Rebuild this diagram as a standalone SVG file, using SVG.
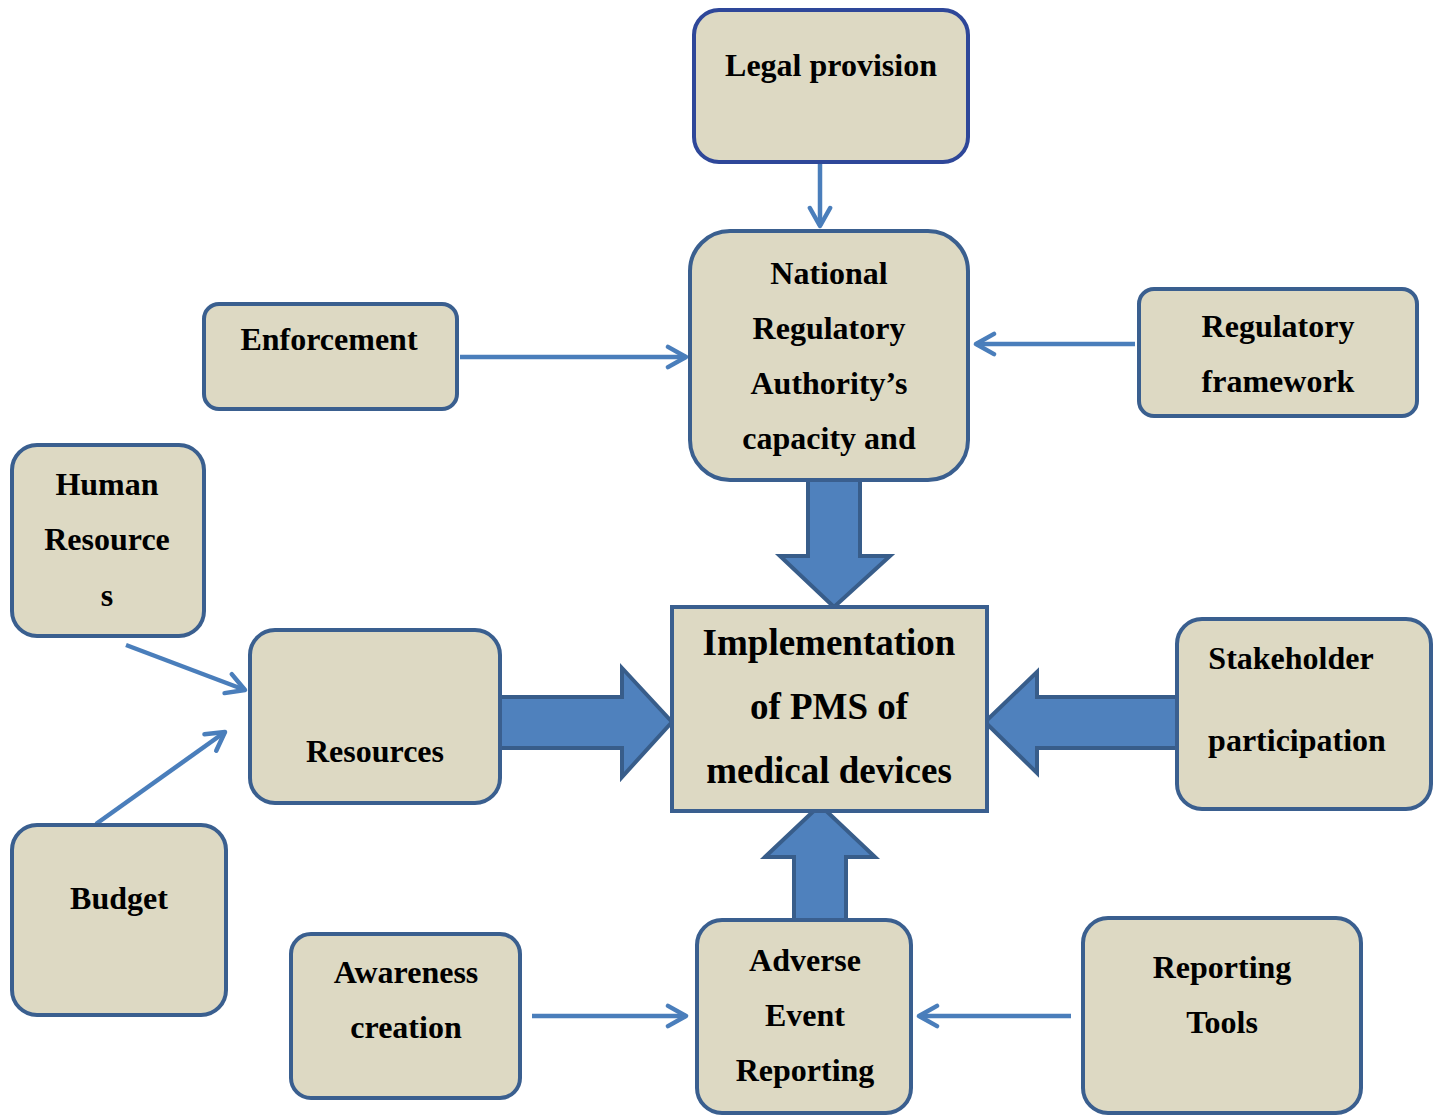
<svg xmlns="http://www.w3.org/2000/svg" width="1439" height="1116" viewBox="0 0 1439 1116">
<defs>
<style>
.n{fill:#DDD9C3;stroke:#3A5F8F;stroke-width:4}
.t{font-family:"Liberation Serif","Times New Roman",serif;font-weight:bold;font-size:32px;fill:#000;text-anchor:middle}
.big{font-size:37px}
.ln{stroke:#4A7EBB;stroke-width:4.5;fill:none}
.ba{fill:#4F81BD;stroke:#385D8A;stroke-width:4;stroke-linejoin:miter}
</style>
<marker id="ah" viewBox="0 0 12 12" refX="10" refY="6" markerWidth="6" markerHeight="6" markerUnits="strokeWidth" orient="auto">
<path d="M2,1.5 L10,6 L2,10.5" fill="none" stroke="#4A7EBB" stroke-width="2" stroke-linecap="round" stroke-linejoin="round"/>
</marker>
</defs>
<rect width="1439" height="1116" fill="#fff"/>
<g id="connectors">
<line class="ln" x1="820" y1="163" x2="820" y2="226" marker-end="url(#ah)"/>
<line class="ln" x1="460" y1="357" x2="686" y2="357" marker-end="url(#ah)"/>
<line class="ln" x1="1135" y1="344" x2="976" y2="344" marker-end="url(#ah)"/>
<line class="ln" x1="126" y1="645" x2="245" y2="690" marker-end="url(#ah)"/>
<line class="ln" x1="96" y1="824" x2="225" y2="732" marker-end="url(#ah)"/>
<line class="ln" x1="532" y1="1016" x2="686" y2="1016" marker-end="url(#ah)"/>
<line class="ln" x1="1071" y1="1016" x2="919" y2="1016" marker-end="url(#ah)"/>
<path class="ba" d="M808,480 L860,480 L860,556 L890,556 L834,607 L780,556 L808,556 Z"/>
<path class="ba" d="M500,697 L622,697 L622,668 L672,722 L622,777 L622,748 L500,748 Z"/>
<path class="ba" d="M1177,697 L1037,697 L1037,672 L985,722 L1037,773 L1037,748 L1177,748 Z"/>
<path class="ba" d="M794,920 L794,857 L765,857 L820,805 L875,857 L846,857 L846,920 Z"/>
</g>
<g id="legal">
<rect class="n" x="694" y="10" width="274" height="152" rx="25" style="stroke:#2E4799"/>
<text class="t" x="831" y="76">Legal provision</text>
</g>
<g id="nra">
<rect class="n" x="690" y="231" width="278" height="249" rx="40"/>
<text class="t" x="829" y="284">National</text>
<text class="t" x="829" y="339">Regulatory</text>
<text class="t" x="829" y="394">Authority’s</text>
<text class="t" x="829" y="449">capacity and</text>
</g>
<g id="enforcement">
<rect class="n" x="204" y="304" width="253" height="105" rx="15"/>
<text class="t" x="329" y="350">Enforcement</text>
</g>
<g id="regframework">
<rect class="n" x="1139" y="289" width="278" height="127" rx="15"/>
<text class="t" x="1278" y="337">Regulatory</text>
<text class="t" x="1278" y="392">framework</text>
</g>
<g id="human">
<rect class="n" x="12" y="445" width="192" height="191" rx="25"/>
<text class="t" x="107" y="495">Human</text>
<text class="t" x="107" y="550">Resource</text>
<text class="t" x="107" y="606">s</text>
</g>
<g id="resources">
<rect class="n" x="250" y="630" width="250" height="173" rx="25"/>
<text class="t" x="375" y="762">Resources</text>
</g>
<g id="budget">
<rect class="n" x="12" y="825" width="214" height="190" rx="25"/>
<text class="t" x="119" y="909">Budget</text>
</g>
<g id="impl">
<rect class="n" x="672" y="607" width="315" height="204"/>
<text class="t big" x="829" y="655">Implementation</text>
<text class="t big" x="829" y="719">of PMS of</text>
<text class="t big" x="829" y="783">medical devices</text>
</g>
<g id="stakeholder">
<rect class="n" x="1177" y="619" width="254" height="190" rx="25"/>
<text class="t" x="1291" y="669">Stakeholder</text>
<text class="t" x="1297" y="751">participation</text>
</g>
<g id="awareness">
<rect class="n" x="291" y="934" width="229" height="164" rx="20"/>
<text class="t" x="406" y="983">Awareness</text>
<text class="t" x="406" y="1038">creation</text>
</g>
<g id="adverse">
<rect class="n" x="697" y="920" width="214" height="193" rx="25"/>
<text class="t" x="805" y="971">Adverse</text>
<text class="t" x="805" y="1026">Event</text>
<text class="t" x="805" y="1081">Reporting</text>
</g>
<g id="tools">
<rect class="n" x="1083" y="918" width="278" height="195" rx="25"/>
<text class="t" x="1222" y="978">Reporting</text>
<text class="t" x="1222" y="1033">Tools</text>
</g>
</svg>
